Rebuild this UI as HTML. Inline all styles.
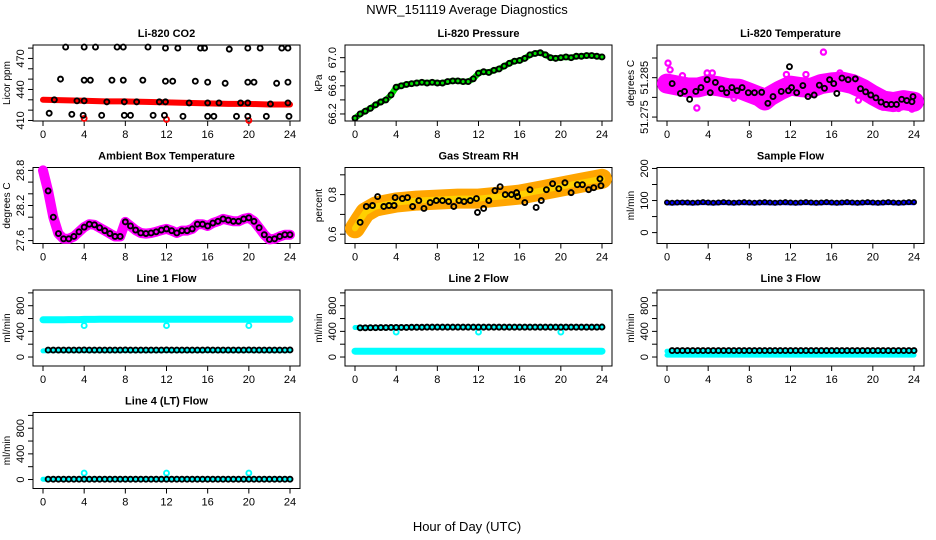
<!DOCTYPE html>
<html><head><meta charset="utf-8">
<style>
html,body{margin:0;padding:0;background:#fff;}
svg{display:block;font-family:"Liberation Sans",sans-serif;}
</style></head>
<body>
<svg id="fig" width="936" height="540" viewBox="0 0 936 540">
<text x="467" y="14" text-anchor="middle" font-size="13">NWR_151119  Average Diagnostics</text>
<text x="467" y="531" text-anchor="middle" font-size="13">Hour of Day (UTC)</text>
</svg>
<script>
// ---------- data arrays ----------
const hours = [0,0.5,1,1.5,2,2.5,3,3.5,4,4.5,5,5.5,6,6.5,7,7.5,8,8.5,9,9.5,10,10.5,11,11.5,12,12.5,13,13.5,14,14.5,15,15.5,16,16.5,17,17.5,18,18.5,19,19.5,20,20.5,21,21.5,22,22.5,23,23.5,24];
const xTicks = [0,4,8,12,16,20,24];

const co2RedHours = [0,2,4,6,8,10,12,14,16,18,20,22,24];
const co2RedVals = [430,429.5,429,428.5,428.5,428,427.5,427,426.5,426,426,425.5,425.5];
const co2RedDipHours = [4,12,20];
const co2RedDipVals = [412,411,410];
const co2BlackHours = [2.2,4.0,5.1,7.2,7.8,10.2,11.9,13.1,15.3,15.7,18.1,19.9,21.1,23.2,23.8,
 1.7,4.0,4.6,6.7,7.8,9.7,11.9,12.6,14.8,16.0,17.7,19.9,20.5,22.7,23.8,
 1.1,3.3,4.0,6.2,7.9,9.1,11.3,11.9,14.2,16.0,17.1,19.2,19.9,22.1,23.8,
 0.6,2.8,3.9,5.7,7.9,8.5,10.7,11.8,13.6,16.0,16.6,18.8,19.9,21.7,23.9];
const co2BlackVals = [481,481,481,481,481,481,480,480,480,480,479,480,480,480,480,
 450,449,449,449,449,449,448,448,448,447,446,447,447,446,447,
 430,429,429,428,428,428,428,428,427,427,427,427,427,426,427,
 417,416,415,415,415,415,415,415,414,414,414,414,414,414,414];

const presVals = [66.14,66.2,66.24,66.28,66.33,66.37,66.4,66.47,66.58,66.6,66.62,66.63,66.64,66.65,66.64,66.65,66.64,66.64,66.66,66.67,66.67,66.66,66.66,66.7,66.78,66.8,66.79,66.82,66.84,66.88,66.92,66.95,66.96,66.99,67.04,67.06,67.07,67.04,67.0,66.99,67.0,67.01,67.0,67.02,67.02,67.03,67.03,67.02,67.01];

const tempBandHours = [0,1,2,3,4,5,6,7,8,9,9.5,10,11,12,13,14,15,16,17,18,19,20,21,22,23,24];
const tempBandVals = [51.2835,51.283,51.2825,51.2825,51.2832,51.2828,51.2823,51.2822,51.2812,51.2802,51.2792,51.2803,51.2818,51.283,51.2826,51.2824,51.2834,51.2838,51.284,51.2834,51.2822,51.2806,51.2792,51.2788,51.2793,51.2789];
const tempBlackHours = [0.5,1.3,1.7,2.2,2.8,3.3,3.9,4.2,4.7,5.3,5.8,6.3,6.8,7.3,7.9,8.5,9.2,9.8,10.3,11.1,11.8,11.9,12.1,12.6,13.2,13.7,14.3,14.8,15.3,15.8,16.2,16.5,17.0,17.6,18.3,18.8,19.3,19.8,20.3,20.8,21.3,21.8,22.3,22.8,23.3,23.8,23.9];
const tempBlackVals = [51.2835,51.281,51.2815,51.2795,51.2815,51.2825,51.2845,51.2812,51.2838,51.2822,51.2812,51.2825,51.2817,51.2825,51.2812,51.2812,51.2813,51.2785,51.2802,51.2815,51.2817,51.2878,51.2825,51.2812,51.283,51.2802,51.2806,51.2831,51.2823,51.2845,51.2835,51.281,51.2849,51.2845,51.2847,51.2822,51.2814,51.2806,51.2799,51.2788,51.2782,51.2782,51.2782,51.2795,51.2792,51.2789,51.2802];
const tempMagHours = [0.1,0.3,2.9,15.2,21,22.5,23.8,3.9,4.4,11.6,13.5,16.8,1.5,6.5,8.8,18.6,19.9];
const tempMagVals = [51.2887,51.287,51.2773,51.2915,51.2775,51.2772,51.277,51.2862,51.2862,51.2858,51.2858,51.2862,51.2855,51.2798,51.2795,51.2793,51.2818];

const ambVals = [28.8,28.45,28.0,27.72,27.63,27.63,27.67,27.75,27.83,27.88,27.87,27.82,27.77,27.72,27.67,27.67,27.92,27.85,27.78,27.73,27.72,27.73,27.75,27.78,27.8,27.77,27.73,27.77,27.77,27.8,27.88,27.88,27.85,27.9,27.93,27.97,27.95,27.93,27.93,27.97,27.99,27.93,27.82,27.7,27.62,27.63,27.67,27.7,27.7];

const rhBandHours = [0,0.5,1,2,4,6,8,10,12,14,16,18,20,22,24];
const rhBandVals = [0.63,0.67,0.71,0.74,0.76,0.77,0.775,0.78,0.78,0.79,0.8,0.82,0.84,0.86,0.88];
const rhBlackHours = [0.5,1.1,1.7,2.2,2.8,3.3,3.8,3.9,4.6,5.1,5.6,6.2,6.7,7.3,7.9,8.5,9.1,9.6,10.1,10.6,11.2,11.8,11.9,12.5,13.0,13.6,14.1,14.6,15.2,15.7,15.8,16.5,17.0,17.6,18.1,18.6,19.2,19.8,20.4,21.0,21.6,22.1,22.7,23.2,23.8,23.9];
const rhBlackVals = [0.66,0.74,0.745,0.79,0.74,0.745,0.745,0.785,0.78,0.785,0.74,0.77,0.73,0.76,0.77,0.77,0.765,0.74,0.77,0.765,0.77,0.78,0.71,0.73,0.77,0.82,0.84,0.80,0.80,0.81,0.79,0.76,0.825,0.735,0.77,0.825,0.855,0.83,0.86,0.81,0.85,0.85,0.825,0.835,0.88,0.845];

const sampleBlue = [93,92,93,94,93,92,93,94,93,92,93,94,93,92,94,93,93,92,94,93,93,92,94,93,93,92,93,94,93,92,93,94,93,92,93,94,93,92,93,94,93,92,93,94,93,92,93,94,93];
const sampleBlack = [94,93,94,94,94,93,94,95,94,93,94,95,94,93,94,95,94,93,94,95,94,93,94,95,94,93,94,95,94,93,94,95,94,93,94,95,94,93,94,95,94,93,94,95,94,93,94,95,95];

const line1Cyan = [580,580,580,582,582,584,584,584,586,586,586,588,588,588,590,590,590,590,590,590,590,590,590,590,590,590,590,590,590,590,590,590,588,588,588,588,588,588,590,590,590,590,590,590,590,590,590,590,590];
const line1CyanLow = [95,100,100,100,100,100,100,100,100,100,100,100,100,100,100,100,100,100,100,100,100,100,100,100,100,100,100,100,100,100,100,100,100,100,100,100,100,100,100,100,100,100,100,100,100,100,100,100,100];
const line1Black = [105,108,108,108,108,108,108,108,110,108,108,108,108,108,108,108,110,108,108,108,108,108,108,108,110,108,108,108,108,108,108,108,110,108,108,108,108,108,108,108,110,108,108,108,108,108,108,108,110];
const dipHours = [4,12,20];
const line1Dips = [490,490,490];

const line2Cyan = [460,458,458,458,458,458,458,458,460,462,462,464,464,466,466,466,468,468,468,468,468,468,468,468,468,468,468,468,468,468,468,468,468,468,468,468,468,468,468,468,468,468,468,468,468,468,468,468,468];
const line2Black = [460,456,456,458,458,460,460,462,462,462,462,464,464,464,466,466,466,466,466,466,466,466,466,466,466,466,466,466,466,466,466,466,466,466,466,466,466,466,466,466,466,466,466,466,466,466,466,466,468];
const line2CyanLow = [90,90,90,90,90,90,90,90,90,90,90,90,90,90,90,90,90,90,90,90,90,90,90,90,90,90,90,90,90,90,90,90,90,90,90,90,90,90,90,90,90,90,90,90,90,90,90,90,90];
const line2Dips = [390,390,390];

const line3CyanHigh = [90,90,90,90,90,90,90,90,90,90,90,90,90,90,90,90,90,90,90,90,90,90,90,90,90,90,90,90,90,90,90,90,90,90,90,90,90,90,90,90,90,90,90,90,90,90,90,90,90];
const line3CyanLow = [30,30,30,30,30,30,30,30,30,30,30,30,30,30,30,30,30,30,30,30,30,30,30,30,30,30,30,30,30,30,30,30,30,30,30,30,30,30,30,30,30,30,30,30,30,30,30,30,30];
const line3Black = [100,100,100,100,100,100,100,100,100,100,100,100,100,100,100,100,100,100,100,100,100,100,100,100,100,100,100,100,100,100,100,100,100,100,100,100,100,100,100,100,100,100,100,100,100,100,100,100,100];

const line4Cyan = [5,5,5,5,5,5,5,5,5,5,5,5,5,5,5,5,5,5,5,5,5,5,5,5,5,5,5,5,5,5,5,5,5,5,5,5,5,5,5,5,5,5,5,5,5,5,5,5,5];
const line4Black = [5,5,5,5,5,5,5,5,5,5,5,5,5,5,5,5,5,5,5,5,5,5,5,5,5,5,5,5,5,5,5,5,5,5,5,5,5,5,5,5,5,5,5,5,5,5,5,5,5];
const line4Dips = [100,100,100];

const co2Ticks = [410,420,430,440,450,460,470,480];
const co2Labels = ["410","440","470"];
const presTicks = [66.2,66.4,66.6,66.8,67.0];
const presLabels = ["66.2","66.6","67.0"];
const tempTicks = [51.275,51.28,51.285,51.29];
const tempLabels = ["51.275","51.285"];
const ambTicks = [27.6,27.8,28.0,28.2,28.4,28.6,28.8];
const ambLabels = ["27.6","28.2","28.8"];
const rhTicks = [0.6,0.7,0.8,0.9];
const rhLabels = ["0.6","0.8"];
const sampleTicks = [0,50,100,150,200];
const sampleLabels = ["0","100","200"];
const flowTicks = [0,200,400,600,800,1000];
const flowLabels = ["0","400","800"];

// ---------- drawing ----------
const NS = "http://www.w3.org/2000/svg";
const svg = document.getElementById("fig");
function mk(tag, attrs, parent) {
  const e = document.createElementNS(NS, tag);
  for (const k in attrs) e.setAttribute(k, attrs[k]);
  (parent || svg).appendChild(e);
  return e;
}
const BOXW = 267, BOXH = 76;
function panel(col, row, title, ytitle, ymin, ymax, ticks, labels, key) {
  const L = 33 + col * 312, T = 45 + row * 122.5;
  const g = mk("g", {});
  
  
  const xs = h => L + 10 + h * 247 / 24;
  const ys = v => T + BOXH - (v - ymin) / (ymax - ymin) * BOXH;
  const t = mk("text", {x: L + BOXW / 2, y: T - 8, "text-anchor": "middle", "font-size": "11", "font-weight": "bold"}, g);
  t.textContent = title;
  
  
  const box = mk("rect", {x: L, y: T, width: BOXW, height: BOXH, fill: "none", stroke: "#000", "stroke-width": "1"}, g);
  
  
  const xa = mk("g", {}, g);
  
  
  mk("line", {x1: xs(0), x2: xs(24), y1: T + BOXH, y2: T + BOXH, stroke: "#000"}, xa);
  xTicks.forEach(h => {
    mk("line", {x1: xs(h), x2: xs(h), y1: T + BOXH, y2: T + BOXH + 5, stroke: "#000"}, xa);
    const tl = mk("text", {x: xs(h), y: T + BOXH + 17, "text-anchor": "middle", "font-size": "11"}, xa);
    tl.textContent = String(h);
  });
  const ya = mk("g", {}, g);
  
  
  mk("line", {x1: L, x2: L, y1: ys(ticks[0]), y2: ys(ticks[ticks.length - 1]), stroke: "#000"}, ya);
  ticks.forEach(v => mk("line", {x1: L - 5, x2: L, y1: ys(v), y2: ys(v), stroke: "#000"}, ya));
  labels.forEach(s => {
    const v = parseFloat(s);
    const tl = mk("text", {x: 0, y: 0, "text-anchor": "middle", "font-size": "11", transform: "translate(" + (L - 9) + "," + ys(v) + ") rotate(-90)"}, ya);
    tl.textContent = s;
  });
  const yt = mk("text", {x: 0, y: 0, "text-anchor": "middle", "font-size": "10", transform: "translate(" + (L - 23) + "," + (T + BOXH / 2) + ") rotate(-90)"}, g);
  yt.textContent = ytitle;
  
  
  const clip = mk("g", {}, g);
  return {g: clip, xs, ys};
}
function band(p, hs, vs, color, w, name) {
  const d = hs.map((h, i) => (i ? "L" : "M") + p.xs(h).toFixed(1) + "," + p.ys(vs[i]).toFixed(1)).join(" ");
  const e = mk("path", {d: d, fill: "none", stroke: color, "stroke-width": w, "stroke-linejoin": "round", "stroke-linecap": "round"}, p.g);
  
  
}
function pts(p, hs, vs, color, name, r, sw) {
  const gg = mk("g", {}, p.g);
  
  
  hs.forEach((h, i) => mk("circle", {cx: p.xs(h), cy: p.ys(vs[i]), r: r || 2.5, fill: "none", stroke: color, "stroke-width": sw || 1.9}, gg));
}

let p;
p = panel(0, 0, "Li-820 CO2", "Licor ppm", 409.5, 483, co2Ticks, co2Labels, "co2");
band(p, co2RedHours, co2RedVals, "#ff0000", 6, "co2-red-series");
pts(p, co2RedDipHours, co2RedDipVals, "#ff0000", "co2-red-outliers");
pts(p, co2BlackHours, co2BlackVals, "#000", "co2-black-series");

p = panel(1, 0, "Li-820 Pressure", "kPa", 66.1, 67.18, presTicks, presLabels, "pressure");
band(p, hours, presVals, "#00e000", 6, "pressure-green-series");
pts(p, hours, presVals, "#000", "pressure-black-series");

p = panel(2, 0, "Li-820 Temperature", "degrees C", 51.274, 51.2933, tempTicks, tempLabels, "temperature");
band(p, tempBandHours, tempBandVals, "#ff00ff", 20, "temperature-magenta-series");
pts(p, tempMagHours, tempMagVals, "#ff00ff", "temperature-magenta-points", 2.6, 2.2);
pts(p, tempBlackHours, tempBlackVals, "#000", "temperature-black-series");

p = panel(0, 1, "Ambient Box Temperature", "degrees C", 27.55, 28.85, ambTicks, ambLabels, "ambient");
band(p, hours, ambVals, "#ff00ff", 10, "ambient-magenta-series");
pts(p, hours.slice(1), ambVals.slice(1), "#000", "ambient-black-series");

p = panel(1, 1, "Gas Stream RH", "percent", 0.553, 0.937, rhTicks, rhLabels, "rh");
band(p, rhBandHours, rhBandVals, "#ffa500", 20, "rh-orange-series");
band(p, rhBandHours, rhBandVals, "#ffd000", 6, "rh-yellow-series");
pts(p, rhBlackHours, rhBlackVals, "#000", "rh-black-series");

p = panel(2, 1, "Sample Flow", "ml/min", -34, 203, sampleTicks, sampleLabels, "sample-flow");
band(p, hours, sampleBlue, "#0000ff", 5, "sample-flow-blue-series");
pts(p, hours, sampleBlack, "#000", "sample-flow-black-series", 2.2, 1.6);

p = panel(0, 2, "Line 1 Flow", "ml/min", -140, 1045, flowTicks, flowLabels, "line1-flow");
band(p, hours, line1Cyan, "#00ffff", 7, "line1-cyan-series");
band(p, hours, line1CyanLow, "#00ffff", 5, "line1-cyan-low-series");
pts(p, dipHours, line1Dips, "#00ffff", "line1-cyan-outliers");
pts(p, hours.slice(1), line1Black.slice(1), "#000", "line1-black-series");

p = panel(1, 2, "Line 2 Flow", "ml/min", -140, 1045, flowTicks, flowLabels, "line2-flow");
band(p, hours, line2Cyan, "#00ffff", 5, "line2-cyan-series");
band(p, hours, line2CyanLow, "#00ffff", 7, "line2-cyan-low-series");
pts(p, dipHours, line2Dips, "#00ffff", "line2-cyan-outliers");
pts(p, hours.slice(1), line2Black.slice(1), "#000", "line2-black-series");

p = panel(2, 2, "Line 3 Flow", "ml/min", -140, 1045, flowTicks, flowLabels, "line3-flow");
band(p, hours, line3CyanHigh, "#00ffff", 5, "line3-cyan-high-series");
band(p, hours, line3CyanLow, "#00ffff", 5, "line3-cyan-low-series");
pts(p, hours.slice(1), line3Black.slice(1), "#000", "line3-black-series");

p = panel(0, 3, "Line 4 (LT) Flow", "ml/min", -140, 1045, flowTicks, flowLabels, "line4-flow");
band(p, hours, line4Cyan, "#00ffff", 5, "line4-cyan-series");
pts(p, dipHours, line4Dips, "#00ffff", "line4-cyan-outliers");
pts(p, hours.slice(1), line4Black.slice(1), "#000", "line4-black-series");
</script>
</body></html>
